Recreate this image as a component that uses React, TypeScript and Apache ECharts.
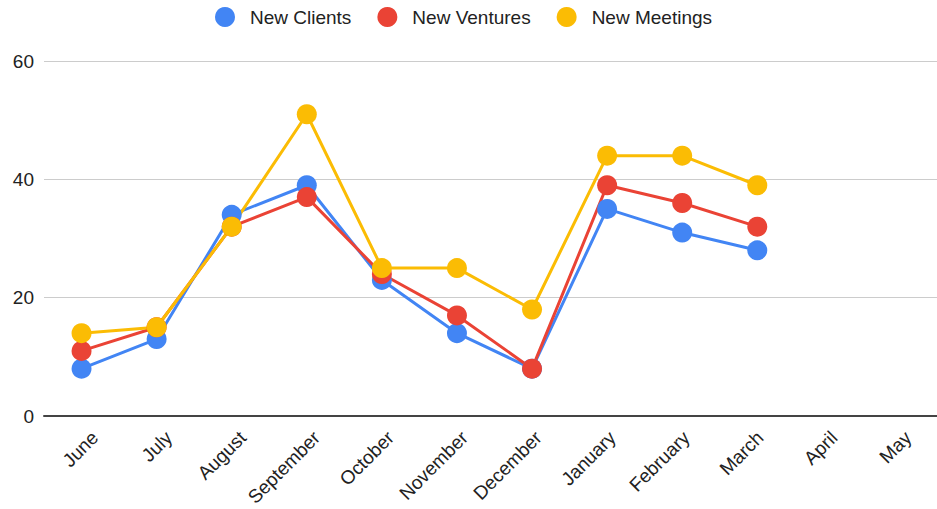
import React, { useEffect, useRef } from "react";
import * as echarts from "echarts";

const months = ["June", "July", "August", "September", "October", "November", "December", "January", "February", "March", "April", "May"];
const newClients = [8, 13, 34, 39, 23, 14, 8, 35, 31, 28];
const newVentures = [11, 15, 32, 37, 24, 17, 8, 39, 36, 32];
const newMeetings = [14, 15, 32, 51, 25, 25, 18, 44, 44, 39];
const yTicks = { min: 0, max: 60, interval: 20 };

const FONT = "'Liberation Sans', Arial, sans-serif";

export default function App() {
  const ref = useRef<HTMLDivElement>(null);
  useEffect(() => {
    if (!ref.current) return;
    const chart = echarts.init(ref.current, undefined, { renderer: "svg" });
    const mk = (name: string, data: number[], color: string) => ({
      name,
      type: "line",
      data,
      xAxisIndex: 0,
      yAxisIndex: 0,
      symbol: "circle",
      symbolSize: 20,
      itemStyle: { color },
      lineStyle: { color, width: 3 },
    });
    chart.setOption({
      animation: false,
      textStyle: { fontFamily: FONT },
      legend: {
        top: 7,
        left: 215,
        padding: 0,
        icon: "circle",
        itemWidth: 20,
        itemHeight: 20,
        itemGap: 26,
        textStyle: { fontSize: 19, color: "#222", fontFamily: FONT, padding: [0, 0, 0, 10] },
        data: ["New Clients", "New Ventures", "New Meetings"],
      },
      grid: [
        { left: 44, top: 61, width: 901, height: 355 },
        { left: 58, top: 61, width: 901, height: 355 },
      ],
      xAxis: [
        {
          type: "category",
          gridIndex: 0,
          data: months,
          boundaryGap: true,
          axisLine: { lineStyle: { color: "#444", width: 2 } },
          axisTick: { show: false },
          axisLabel: { show: false },
        },
        {
          type: "category",
          gridIndex: 1,
          data: months,
          boundaryGap: true,
          axisLine: { show: false },
          axisTick: { show: false },
          axisLabel: { rotate: 45, fontSize: 19, color: "#222", fontFamily: FONT, margin: 20, interval: 0 },
        },
      ],
      yAxis: [
        {
          type: "value",
          gridIndex: 0,
          min: yTicks.min,
          max: yTicks.max,
          interval: yTicks.interval,
          axisLine: { show: false },
          axisTick: { show: false },
          axisLabel: { fontSize: 19, color: "#222", fontFamily: FONT, margin: 10 },
          splitLine: { lineStyle: { color: "#cccccc", width: 1 } },
        },
        {
          type: "value",
          gridIndex: 1,
          min: yTicks.min,
          max: yTicks.max,
          interval: yTicks.interval,
          show: false,
        },
      ],
      series: [
        mk("New Clients", newClients, "#4285F4"),
        mk("New Ventures", newVentures, "#EA4335"),
        mk("New Meetings", newMeetings, "#FBBC04"),
      ],
    });
    return () => chart.dispose();
  }, []);
  return (
    <div style={{ width: 937, height: 509, position: "absolute", left: 0, top: 0, overflow: "hidden" }}>
      <div ref={ref} style={{ width: 945, height: 509 }} />
    </div>
  );
}
